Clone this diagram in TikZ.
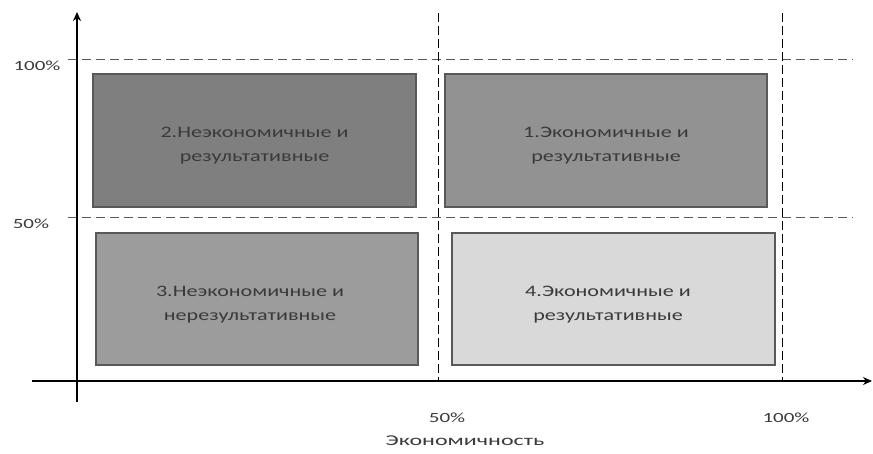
\documentclass[tikz,border=0pt]{standalone}
\usepackage{fontspec}
\setmainfont{Carlito}
\usetikzlibrary{arrows.meta}
\definecolor{gA}{HTML}{7F7F7F}
\definecolor{gB}{HTML}{929292}
\definecolor{gC}{HTML}{9C9C9C}
\definecolor{gD}{HTML}{D9D9D9}
\definecolor{txt}{HTML}{3A3A3A}
\newcommand{\qtext}[2]{\scalebox{1.38}[1]{\fontsize{16}{24}\selectfont\begin{tabular}{@{}c@{}}#1\\#2\end{tabular}}}
\newcommand{\ltext}[2]{\scalebox{#1}[1]{#2}}
\begin{document}
\begin{tikzpicture}[x=1pt,y=-1pt,
  quad/.style={draw=black!65,line width=1.2pt},
  qlab/.style={text=txt,inner sep=0pt},
  grid/.style={dashed,dash pattern=on 9pt off 5pt,line width=0.8pt,black!65},
  vgrid/.style={dashed,dash pattern=on 9pt off 4pt,line width=1pt,black},
  axis/.style={line width=2pt,black},
  lab/.style={text=txt,inner sep=0pt,font=\fontsize{14}{16}\selectfont}]
\useasboundingbox (0,0) rectangle (873,454);
% grid lines
\coordinate (h1a) at (68,59); \coordinate (h1b) at (853,59);
\coordinate (h2a) at (68,217); \coordinate (h2b) at (853,217);
\coordinate (v1a) at (438,13); \coordinate (v1b) at (438,381);
\coordinate (v2a) at (782,13); \coordinate (v2b) at (782,381);
\draw[grid] (h1a) -- (h1b);
\draw[grid] (h2a) -- (h2b);
\draw[vgrid] (v1a) -- (v1b);
\draw[vgrid] (v2a) -- (v2b);
% boxes
\path[quad,fill=gA] (93,74) rectangle (416,207);
\node[qlab] (q2) at (254.5,145) {\qtext{2.Неэкономичные и}{результативные}};
\path[quad,fill=gB] (445,74) rectangle (767,207);
\node[qlab] (q1) at (606,145) {\qtext{1.Экономичные и}{результативные}};
\path[quad,fill=gC] (96,233) rectangle (418,365);
\node[qlab] (q3) at (250,304) {\qtext{3.Неэкономичные и}{нерезультативные}};
\path[quad,fill=gD] (452,233) rectangle (775,365);
\node[qlab] (q4) at (608,304) {\qtext{4.Экономичные и}{результативные}};
% axes
\coordinate (ya) at (77,402); \coordinate (yb) at (77,12);
\coordinate (xa) at (32,381); \coordinate (xb) at (872,381);
\draw[axis,-{Stealth[length=9pt,width=8pt]}] (ya) -- (yb);
\draw[axis,-{Stealth[length=9pt,width=8pt]}] (xa) -- (xb);
% labels
\node[lab] (l100) at (37,66) {\ltext{1.5}{100\%}};
\node[lab] (l50) at (31,224) {\ltext{1.5}{50\%}};
\node[lab] (b50) at (447,418) {\ltext{1.5}{50\%}};
\node[lab] (b100) at (786,418) {\ltext{1.5}{100\%}};
\node[lab,font=\fontsize{15}{17}\selectfont] (xt) at (465,441) {\ltext{1.6}{Экономичность}};
\end{tikzpicture}
\end{document}
